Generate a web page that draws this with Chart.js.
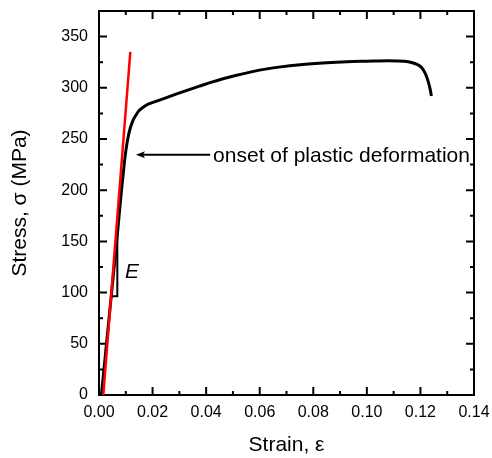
<!DOCTYPE html>
<html>
<head>
<meta charset="utf-8">
<title>Stress-strain curve</title>
<script src="https://cdn.jsdelivr.net/npm/chart.js@4.4.1/dist/chart.umd.min.js"></script>
<style>
  html, body { margin: 0; padding: 0; background: #fff; }
  #wrap { position: relative; width: 492px; height: 458px; }
</style>
</head>
<body>
<div id="wrap"><canvas id="stressChart"></canvas></div>
<script>
// Tensile test: measured curve
const strain = [0.0009, 0.0028, 0.0047, 0.0066, 0.0084, 0.0090, 0.0097, 0.0104, 0.0112, 0.0125,
                0.0137, 0.0147, 0.0165, 0.0184, 0.0210, 0.0247, 0.0290, 0.0334, 0.0380, 0.0421,
                0.0502, 0.0627, 0.0751, 0.0850, 0.0926, 0.1000, 0.1080, 0.1140, 0.1170, 0.1190,
                0.1205, 0.1218, 0.1228, 0.1236, 0.1241];
const stress = [0, 50, 100, 150, 200, 215, 232, 245, 256, 267,
                273, 277, 281, 284, 286.5, 290, 294, 298, 302, 305.5,
                311.5, 318.5, 322.5, 324.5, 325.5, 326, 326.5, 326, 324.5, 322.5,
                319.5, 314, 307, 299, 292];

// Elastic modulus line
const modulusStrain = [0.0016, 0.0117];
const modulusStress = [0, 335];

// Slope triangle under the modulus line
const triangleStrain = [0.0045, 0.00684, 0.00684];
const triangleStress = [96.5, 96.5, 174];

// Axis ticks
const xTicks = [0, 0.02, 0.04, 0.06, 0.08, 0.10, 0.12, 0.14];
const xMinor = [0.01, 0.03, 0.05, 0.07, 0.09, 0.11, 0.13];
const yTicks = [0, 50, 100, 150, 200, 250, 300, 350];
const yMinor = [25, 75, 125, 175, 225, 275, 325];

// Annotations (data coordinates)
const arrowFrom = [0.0415, 234.5];
const arrowTo = [0.0138, 234.5];
const onsetLabel = 'onset of plastic deformation';
const onsetAt = [0.0426, 228];
const modulusLabel = 'E';
const modulusAt = [0.0097, 114];

const FONT = "'Liberation Sans', Arial, Helvetica, sans-serif";

function toPoints(xs, ys) {
    return xs.map((x, i) => ({ x: x, y: ys[i] }));
}

// Frame with inward ticks on all four sides
const framePlugin = {
    id: 'frame',
    beforeDatasetsDraw(chart) {
        const { ctx, chartArea: a, scales: { x, y } } = chart;
        ctx.save();
        ctx.strokeStyle = '#000';
        ctx.lineWidth = 2;
        ctx.lineCap = 'butt';
        ctx.beginPath();
        const tick = (px, len, vertical) => {
            if (vertical) {
                ctx.moveTo(px, a.bottom); ctx.lineTo(px, a.bottom - len);
                ctx.moveTo(px, a.top); ctx.lineTo(px, a.top + len);
            } else {
                ctx.moveTo(a.left, px); ctx.lineTo(a.left + len, px);
                ctx.moveTo(a.right, px); ctx.lineTo(a.right - len, px);
            }
        };
        xTicks.forEach(v => tick(x.getPixelForValue(v), 8, true));
        xMinor.forEach(v => tick(x.getPixelForValue(v), 4, true));
        yTicks.forEach(v => tick(y.getPixelForValue(v), 8, false));
        yMinor.forEach(v => tick(y.getPixelForValue(v), 4, false));
        ctx.stroke();
        ctx.strokeRect(a.left, a.top, a.right - a.left, a.bottom - a.top);
        ctx.restore();
    },
    afterDatasetsDraw(chart) {
        const { ctx, scales: { x, y } } = chart;
        ctx.save();
        // arrow
        const x0 = x.getPixelForValue(arrowFrom[0]), y0 = y.getPixelForValue(arrowFrom[1]);
        const x1 = x.getPixelForValue(arrowTo[0]), y1 = y.getPixelForValue(arrowTo[1]);
        ctx.strokeStyle = '#000';
        ctx.fillStyle = '#000';
        ctx.lineWidth = 2;
        ctx.beginPath();
        ctx.moveTo(x0, y0);
        ctx.lineTo(x1 + 6, y1);
        ctx.stroke();
        ctx.beginPath();
        ctx.moveTo(x1, y1);
        ctx.lineTo(x1 + 9, y1 - 3.5);
        ctx.lineTo(x1 + 7, y1);
        ctx.lineTo(x1 + 9, y1 + 3.5);
        ctx.closePath();
        ctx.fill();
        // labels
        ctx.textBaseline = 'alphabetic';
        ctx.textAlign = 'left';
        ctx.font = '21px ' + FONT;
        ctx.fillText(onsetLabel, x.getPixelForValue(onsetAt[0]), y.getPixelForValue(onsetAt[1]));
        ctx.font = 'italic 21px ' + FONT;
        ctx.fillText(modulusLabel, x.getPixelForValue(modulusAt[0]), y.getPixelForValue(modulusAt[1]));
        ctx.restore();
    }
};

Chart.defaults.color = '#000';
Chart.defaults.font.family = FONT;

new Chart(document.getElementById('stressChart'), {
    type: 'scatter',
    data: {
        datasets: [
            // red modulus line sits on top of the curve
            {
                label: 'Modulus',
                data: toPoints(modulusStrain, modulusStress),
                showLine: true,
                borderColor: '#ff0000',
                borderWidth: 2.5,
                pointRadius: 0,
                tension: 0
            },
            {
                label: 'Stress-strain',
                data: toPoints(strain, stress),
                showLine: true,
                borderColor: '#000',
                borderWidth: 3,
                pointRadius: 0,
                cubicInterpolationMode: 'monotone'
            },
            {
                label: 'Slope',
                data: toPoints(triangleStrain, triangleStress),
                showLine: true,
                borderColor: '#000',
                borderWidth: 2,
                pointRadius: 0,
                tension: 0
            }
        ]
    },
    options: {
        responsive: true,
        maintainAspectRatio: false,
        animation: false,
        devicePixelRatio: 1,
        layout: { padding: { top: 11, right: 18, left: 0, bottom: 0 } },
        plugins: {
            legend: { display: false },
            tooltip: { enabled: false }
        },
        scales: {
            x: {
                type: 'linear',
                min: 0,
                max: 0.14,
                grid: { display: false, drawTicks: false },
                border: { display: false },
                afterBuildTicks: s => { s.ticks = xTicks.map(v => ({ value: v })); },
                afterFit: s => {
                    s.height = 63;
                    s.paddingLeft = 0;
                    s.paddingRight = 0;
                },
                ticks: {
                    padding: 8,
                    maxRotation: 0,
                    autoSkip: false,
                    font: { size: 16 },
                    callback: v => v.toFixed(2)
                },
                title: {
                    display: true,
                    text: 'Strain, ε',
                    font: { size: 21 },
                    padding: { top: 0, bottom: 0 }
                }
            },
            y: {
                type: 'linear',
                min: 0,
                max: 375,
                grid: { display: false, drawTicks: false },
                border: { display: false },
                afterBuildTicks: s => { s.ticks = yTicks.map(v => ({ value: v })); },
                afterFit: s => {
                    s.width = 99;
                    s.paddingTop = 0;
                    s.paddingBottom = 0;
                },
                ticks: {
                    padding: 11,
                    autoSkip: false,
                    font: { size: 16 },
                    callback: v => String(v)
                },
                title: {
                    display: true,
                    text: 'Stress, σ (MPa)',
                    font: { size: 21 },
                    padding: { top: 8, bottom: 0 }
                }
            }
        }
    },
    plugins: [framePlugin]
});
</script>
</body>
</html>
